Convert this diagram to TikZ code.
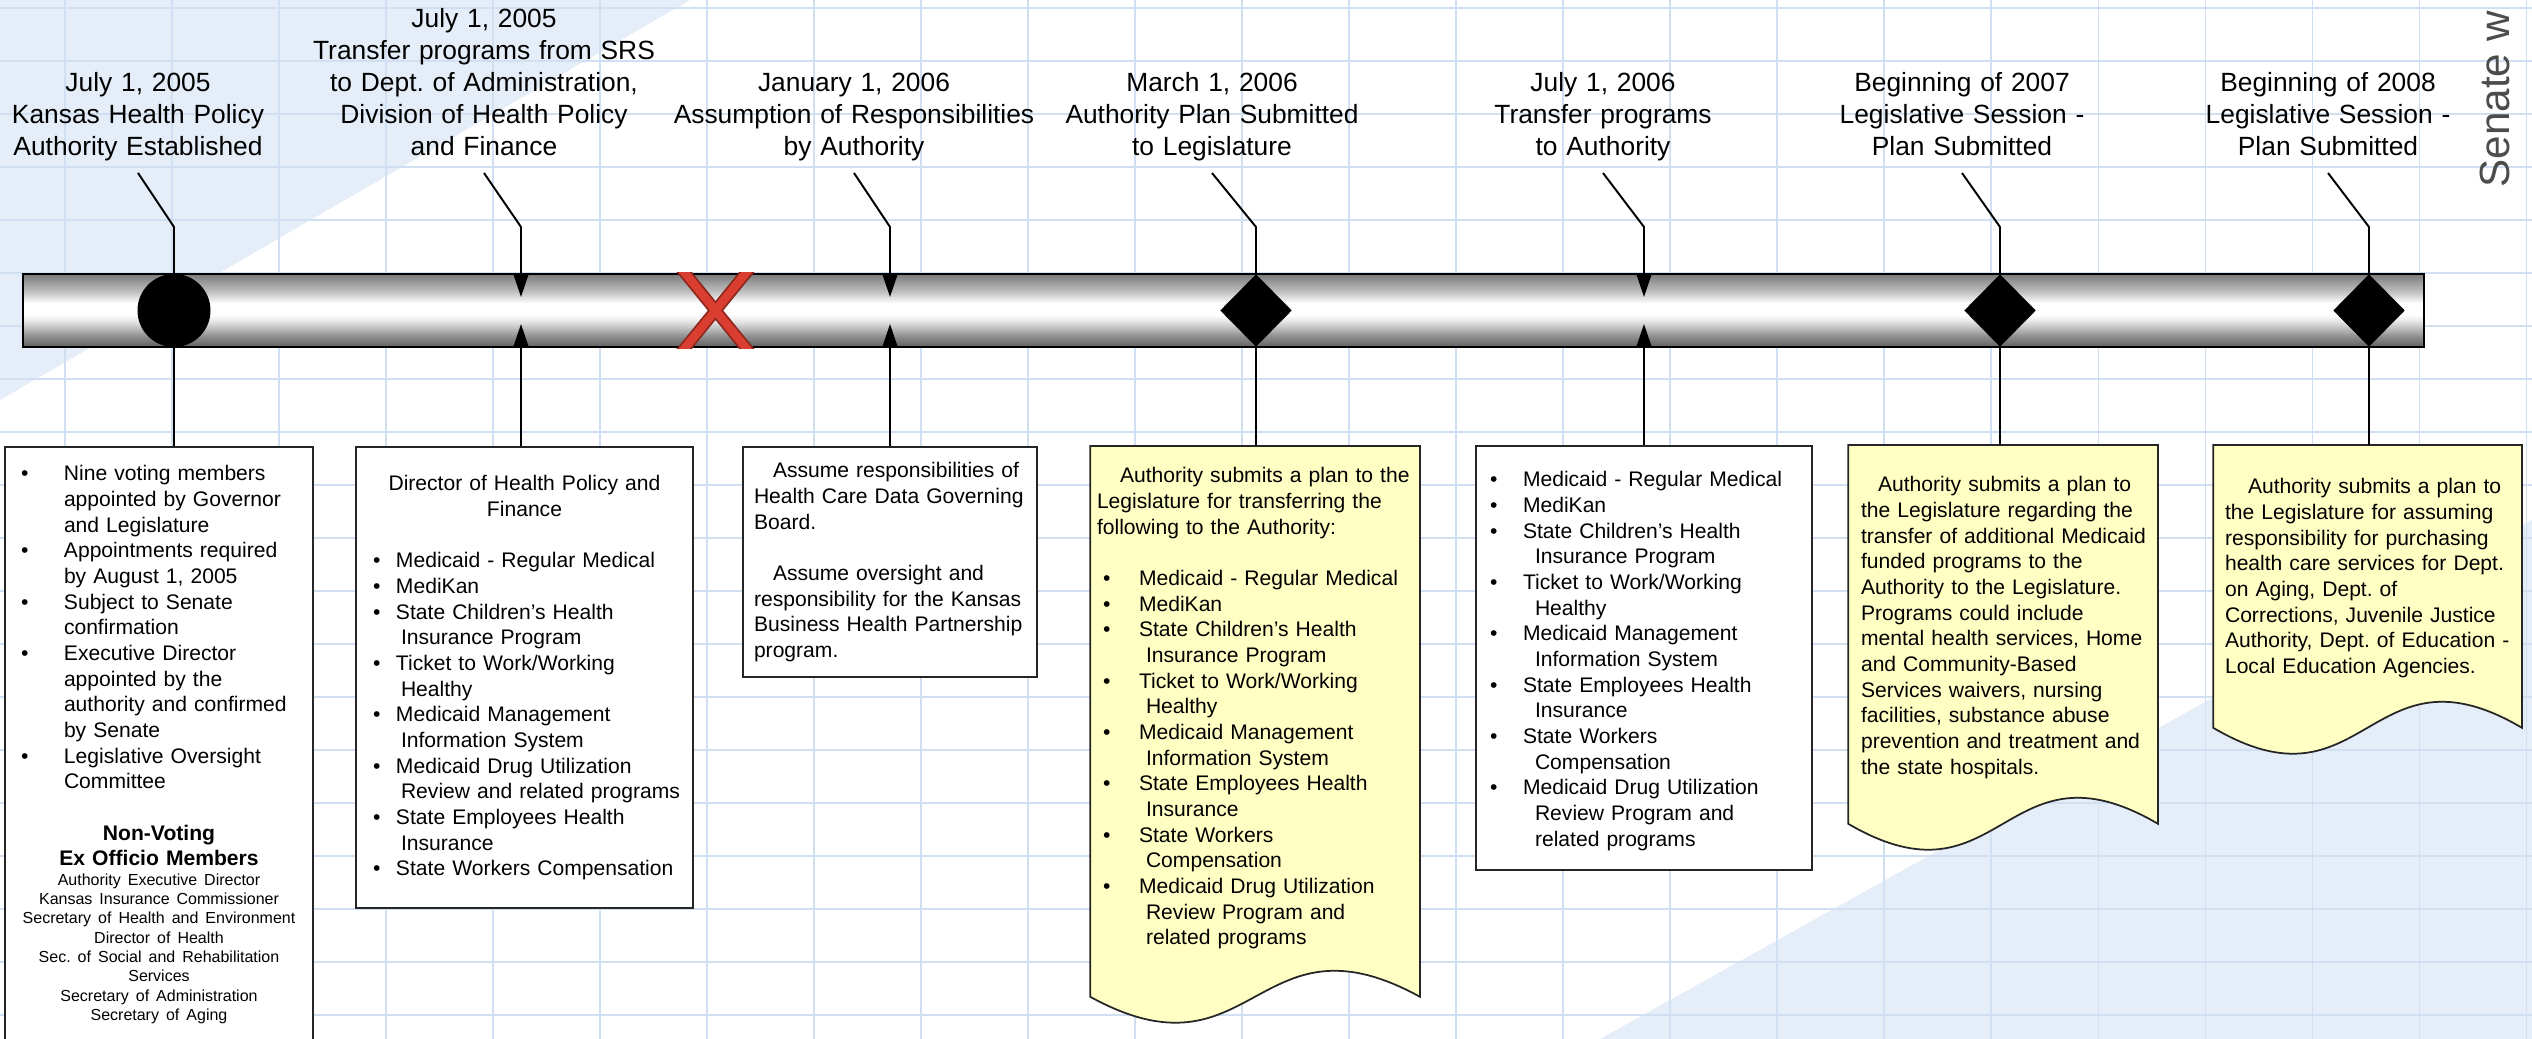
\documentclass[tikz,border=0pt]{standalone}
\usepackage{fontspec}
\setmainfont{Liberation Sans}
\usetikzlibrary{shapes.geometric,arrows.meta,backgrounds}

\definecolor{gridblue}{RGB}{208,223,242}
\definecolor{paleblue}{RGB}{228,237,248}
\definecolor{noteyellow}{RGB}{255,255,196}
\definecolor{xred}{RGB}{218,62,48}
\definecolor{xredline}{RGB}{140,38,28}

\pgfdeclareverticalshading{tube}{100bp}{color(0bp)=(black!62); color(25bp)=(black!62); color(32bp)=(black!45); color(42bp)=(black!12); color(47bp)=(white); color(55bp)=(white); color(63bp)=(black!25); color(75bp)=(black!52); color(100bp)=(black!52)}

\hyphenpenalty=10000
\exhyphenpenalty=10000
\frenchspacing

\newlength{\bpos}\newlength{\btxt}\newlength{\bhang}
\newcommand{\bset}[3]{\setlength{\bpos}{#1}\setlength{\btxt}{#2}\setlength{\bhang}{#3}}
\newcommand{\itm}[1]{\hangindent=\bhang\hangafter=1\noindent\hspace*{\bpos}\makebox[\dimexpr\btxt-\bpos\relax][l]{\textbullet}#1\par}

\begin{document}
\begin{tikzpicture}[x=0.1mm,y=-0.1mm,
  lbl/.style={anchor=south,text width=37mm,align=center,inner sep=0pt,
    font=\fontsize{7.5pt}{9.1pt}\selectfont,text depth=#1},
  box/.style={draw=black!85,line width=0.5pt,fill=white,anchor=north,align=left,
    inner ysep=0pt,font=\fontsize{6pt}{7.3pt}\selectfont},
  note/.style={box,draw=none,fill=none},
  docshape/.style={draw=black!85,line width=0.5pt,fill=noteyellow},
  wire/.style={line width=0.55pt},
  tip/.style={wire,-{Triangle[length=2.3mm,width=1.5mm]}},
  event/.style={fill=black,inner sep=0pt}]

  \useasboundingbox (0,0) rectangle (2532,1039);

  \begin{scope}[on background layer]
    \clip (0,0) rectangle (2532,1039);
    \fill[white] (0,0) rectangle (2532,1039);
    \fill[paleblue] (0,0) -- (690,0) -- (0,400) -- cycle;
    \fill[paleblue] (1600,1039) -- (2532,520) -- (2532,1039) -- cycle;
    \foreach \gx in {65,172,...,2532}
      \draw[gridblue,line width=0.3pt] (\gx,0) -- (\gx,1039);
    \foreach \gy in {8,61,...,1039}
      \draw[gridblue,line width=0.3pt] (0,\gy) -- (2532,\gy);
  \end{scope}

  \clip (0,0) rectangle (2532,1039);

  % timeline
  \node[draw=black,line width=0.8pt,shade,shading=tube,minimum width=240.1mm,
    minimum height=7.3mm,inner sep=0pt] (bar) at (1223.5,310.5) {};

  \node[event,circle,minimum size=7.3mm] (m1) at (174,310.5) {};
  \coordinate (m2) at (521,297);
  \coordinate (m2u) at (521,324);
  \coordinate (m3) at (890,297);
  \coordinate (m3u) at (890,324);
  \node[event,diamond,minimum width=7.2mm,minimum height=7.3mm] (m4) at (1256,310.5) {};
  \coordinate (m5) at (1644,297);
  \coordinate (m5u) at (1644,324);
  \node[event,diamond,minimum width=7.2mm,minimum height=7.3mm] (m6) at (2000,310.5) {};
  \node[event,diamond,minimum width=7.2mm,minimum height=7.3mm] (m7) at (2369,310.5) {};
  \coordinate (bend) at (0,227);

  \begin{scope}
    \clip (bar.north west) rectangle (bar.south east);
    \draw[xredline,line width=1.2mm] (676,262) -- (755,359) (755,262) -- (676,359);
    \draw[xred,line width=0.85mm] (676,262) -- (755,359) (755,262) -- (676,359);
  \end{scope}

  % dates
  \node[lbl=8.1mm] (lab1) at (138,173) {July 1, 2005\\Kansas Health Policy\\Authority Established};
  \node[lbl=14.5mm] (lab2) at (484,173) {July 1, 2005\\Transfer programs from SRS\\to Dept. of Administration,\\Division of Health Policy\\and Finance};
  \node[lbl=8.1mm] (lab3) at (854,173) {January 1, 2006\\Assumption of Responsibilities\\by Authority};
  \node[lbl=8.1mm] (lab4) at (1212,173) {March 1, 2006\\Authority Plan Submitted\\to Legislature};
  \node[lbl=8.1mm] (lab5) at (1603,173) {July 1, 2006\\Transfer programs\\to Authority};
  \node[lbl=8.1mm] (lab6) at (1962,173) {Beginning of 2007\\Legislative Session -\\Plan Submitted};
  \node[lbl=8.1mm] (lab7) at (2328,173) {Beginning of 2008\\Legislative Session -\\Plan Submitted};

  \draw[wire] (lab1.south) -- (m1 |- bend) -- (m1.north);
  \draw[tip] (lab2.south) -- (m2 |- bend) -- (m2);
  \draw[tip] (lab3.south) -- (m3 |- bend) -- (m3);
  \draw[wire] (lab4.south) -- (m4 |- bend) -- (m4.north);
  \draw[tip] (lab5.south) -- (m5 |- bend) -- (m5);
  \draw[wire] (lab6.south) -- (m6 |- bend) -- (m6.north);
  \draw[wire] (lab7.south) -- (m7 |- bend) -- (m7.north);

  % details
  \node[box,text width=30mm,inner xsep=0.4mm,text height=3.4mm,text depth=56.8mm] (box1) at (159,446) {%
    \bset{1.2mm}{5.5mm}{5.5mm}%
    \itm{Nine voting members\newline appointed by Governor\newline and Legislature}
    \itm{Appointments required\newline by August 1, 2005}
    \itm{Subject to Senate\newline confirmation}
    \itm{Executive Director\newline appointed by the\newline authority and confirmed\newline by Senate}
    \itm{Legislative Oversight\newline Committee}
    \vspace{\baselineskip}
    {\centering\bfseries Non-Voting\\Ex Officio Members\par}
    {\centering\fontsize{4.55pt}{5.5pt}\selectfont Authority Executive Director\\Kansas Insurance Commissioner\\Secretary of Health and Environment\\Director of Health\\Sec. of Social and Rehabilitation\\Services\\Secretary of Administration\\Secretary of Aging\par}};

  \node[box,text width=32.7mm,inner xsep=0.5mm,text height=4.4mm,text depth=41.7mm] (box2) at (524.5,446) {%
    {\centering Director of Health Policy and\\Finance\par}
    \vspace{\baselineskip}
    \bset{1.2mm}{3.5mm}{4.0mm}%
    \itm{Medicaid - Regular Medical}
    \itm{MediKan}
    \itm{State Children’s Health\newline Insurance Program}
    \itm{Ticket to Work/Working\newline Healthy}
    \itm{Medicaid Management\newline Information System}
    \itm{Medicaid Drug Utilization\newline Review and related programs}
    \itm{State Employees Health\newline Insurance}
    \itm{State Workers Compensation}};

  \node[box,text width=28.4mm,inner xsep=0.5mm,text height=3.1mm,text depth=19.9mm] (box3) at (890,446) {%
    \leftskip=0.6mm
    \hspace*{1.9mm}Assume responsibilities of\\Health Care Data Governing\\Board.\par
    \vspace{\baselineskip}
    \hspace*{1.9mm}Assume oversight and\\responsibility for the Kansas\\Business Health Partnership\\program.\par};

  \node[note,text width=31.6mm,inner xsep=0.6mm,text height=3.6mm,text depth=51.3mm] (box4) at (1255,446) {%
    \hspace*{2.3mm}Authority submits a plan to the\\Legislature for transferring the\\following to the Authority:\par
    \vspace{\baselineskip}
    \bset{0.6mm}{4.2mm}{4.9mm}%
    \itm{Medicaid - Regular Medical}
    \itm{MediKan}
    \itm{State Children’s Health\newline Insurance Program}
    \itm{Ticket to Work/Working\newline Healthy}
    \itm{Medicaid Management\newline Information System}
    \itm{State Employees Health\newline Insurance}
    \itm{State Workers\newline Compensation}
    \itm{Medicaid Drug Utilization\newline Review Program and\newline related programs}};

  \node[box,text width=32.4mm,inner xsep=0.6mm,text height=4.1mm,text depth=38.3mm] (box5) at (1644,445) {%
    \bset{0.8mm}{4.1mm}{5.3mm}%
    \itm{Medicaid - Regular Medical}
    \itm{MediKan}
    \itm{State Children’s Health\newline Insurance Program}
    \itm{Ticket to Work/Working\newline Healthy}
    \itm{Medicaid Management\newline Information System}
    \itm{State Employees Health\newline Insurance}
    \itm{State Workers\newline Compensation}
    \itm{Medicaid Drug Utilization\newline Review Program and\newline related programs}};

  \node[note,text width=29.6mm,inner xsep=0.6mm,text height=4.6mm,text depth=33.1mm] (box6) at (2003,445) {%
    \leftskip=0.6mm
    \hspace*{1.7mm}Authority submits a plan to\\the Legislature regarding the\\transfer of additional Medicaid\\funded programs to the\\Authority to the Legislature.\\Programs could include\\mental health services, Home\\and Community-Based\\Services waivers, nursing\\facilities, substance abuse\\prevention and treatment and\\the state hospitals.\par};

  \node[note,text width=29.7mm,inner xsep=0.5mm,text height=4.8mm,text depth=23.3mm] (box7) at (2367.5,445) {%
    \leftskip=0.6mm
    \hspace*{2.3mm}Authority submits a plan to\\the Legislature for assuming\\responsibility for purchasing\\health care services for Dept.\\on Aging,  Dept. of\\Corrections, Juvenile Justice\\Authority, Dept. of Education -\\Local Education Agencies.\par};

  \begin{scope}[on background layer]
    \draw[docshape] (box4.north west) -- (box4.north east) -- (box4.south east)
      .. controls +(-164,-90) and +(164,90) .. (box4.south west) -- cycle;
    \draw[docshape] (box6.north west) -- (box6.north east) -- (box6.south east)
      .. controls +(-154,-90) and +(154,90) .. (box6.south west) -- cycle;
    \draw[docshape] (box7.north west) -- (box7.north east) -- (box7.south east)
      .. controls +(-153,-90) and +(153,90) .. (box7.south west) -- cycle;
  \end{scope}

  \draw[wire] (m1.south) -- (m1.south |- box1.north);
  \draw[tip] (box2.north -| m2u) -- (m2u);
  \draw[tip] (box3.north -| m3u) -- (m3u);
  \draw[wire] (m4.south) -- (m4.south |- box4.north);
  \draw[tip] (box5.north -| m5u) -- (m5u);
  \draw[wire] (m6.south) -- (m6.south |- box6.north);
  \draw[wire] (m7.south) -- (m7.south |- box7.north);

  \node[rotate=90,anchor=west,inner sep=0pt,text=black!70,
    font=\fontsize{12pt}{12pt}\selectfont] (hand) at (2495,188) {Senate w};
\end{tikzpicture}
\end{document}
